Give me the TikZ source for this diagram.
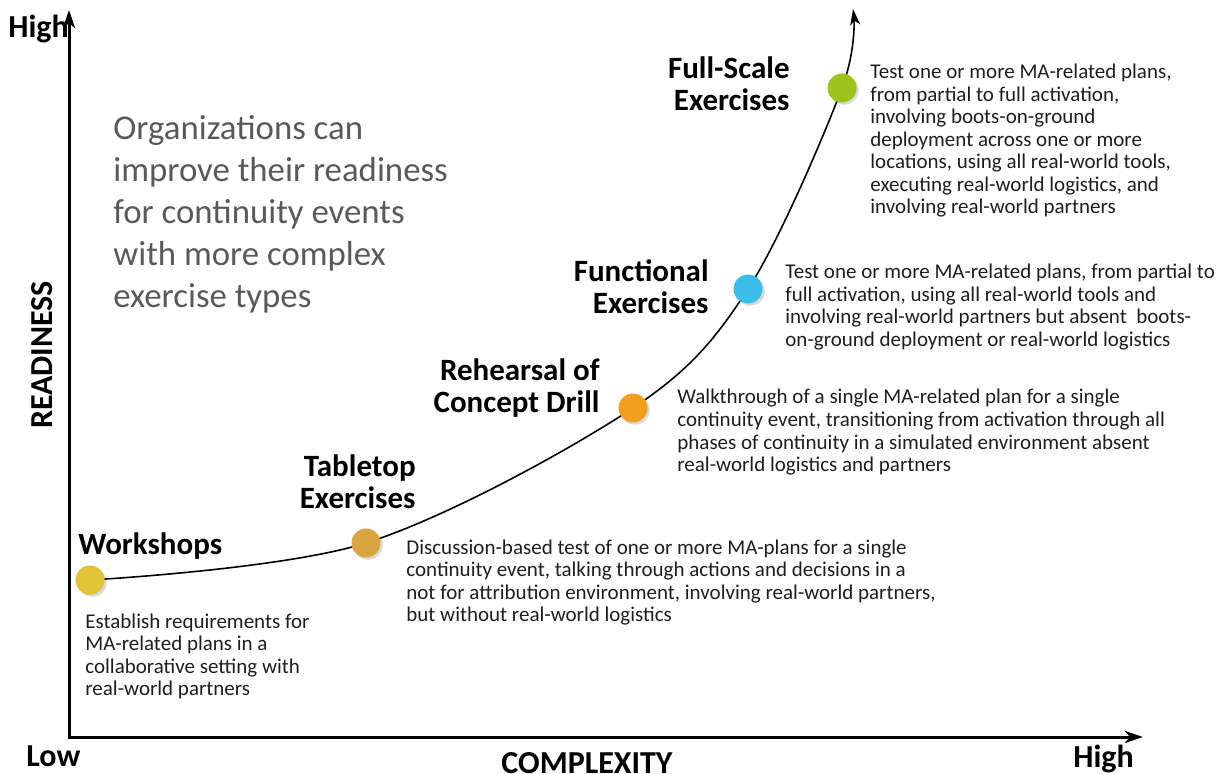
\documentclass[tikz,border=0pt]{standalone}
\usepackage{fontspec}
\setmainfont{Carlito}
\usetikzlibrary{arrows.meta,shadows}

\definecolor{bodytext}{HTML}{1E1E1E}
\definecolor{leadgray}{HTML}{595959}
\definecolor{cWork}{HTML}{E2C236}
\definecolor{cTable}{HTML}{D9A542}
\definecolor{cDrill}{HTML}{F29E1E}
\definecolor{cFunc}{HTML}{3DBEE9}
\definecolor{cFull}{HTML}{9DC41D}

% multi-line nodes are placed by the baseline of their last line
\tikzset{
  axis/.style={line width=1.5pt, -{Stealth[length=9pt,width=6pt,inset=2.5pt]}},
  curve/.style={line width=0.8pt, -{Stealth[length=8pt,width=5pt,inset=2pt]}},
  dot/.style={circle, inner sep=0pt, minimum size=14.5pt,
    drop shadow={shadow xshift=1.1pt, shadow yshift=-1.1pt, opacity=0.3}},
  heading/.style={font=\fontsize{15.5}{16}\selectfont\bfseries, align=right,
    inner sep=0pt, anchor=base east},
  axislabel/.style={font=\fontsize{16}{16}\selectfont\bfseries, inner sep=0pt},
  desc/.style={font=\fontsize{10.5}{11.25}\selectfont, text=bodytext, align=left,
    inner sep=0pt, anchor=base west},
  lead/.style={font=\fontsize{17.4}{21}\selectfont, text=leadgray, align=left,
    inner sep=0pt, anchor=base west}
}

\begin{document}
\begin{tikzpicture}[x=0.5pt, y=-0.5pt]
  \useasboundingbox (0,0) rectangle (1224,774);

  % axes
  \coordinate (origin) at (69,737);
  \coordinate (ytop) at (69,10);
  \coordinate (xend) at (1143,737);
  \draw[axis] (origin |- 0,739) -- (ytop);
  \draw[axis] (origin -| 67.5,0) -- (xend);

  \node[axislabel, anchor=base west] (yhigh) at (8,38) {High};
  \node[axislabel, anchor=base west] (xlow) at (26,766) {Low};
  \node[axislabel, anchor=base west] (xhigh) at (1073,767) {High};
  \node[axislabel, anchor=base] (xlabel) at (587,773) {COMPLEXITY};
  \node[axislabel, rotate=90, anchor=base] (ylabel) at (52,355) {READINESS};

  % points on the readiness curve
  \coordinate (pw) at (90,580);
  \coordinate (pt) at (366,543);
  \coordinate (pr) at (633,408);
  \coordinate (pf) at (748,289);
  \coordinate (ps) at (842,88);
  \coordinate (pend) at (853,9);

  \draw[curve] plot[smooth, tension=0.55] coordinates {(pw) (pt) (pr) (pf) (ps) (pend)};

  % exercise markers
  \node[dot, fill=cWork] (dw) at (pw) {};
  \node[dot, fill=cTable] (dt) at (pt) {};
  \node[dot, fill=cDrill] (dr) at (pr) {};
  \node[dot, fill=cFunc] (df) at (pf) {};
  \node[dot, fill=cFull] (ds) at (ps) {};

  % exercise names
  \node[heading, anchor=base west] (hw) at (78,554) {Workshops};
  \node[heading] (ht) at (416,508) {Tabletop\\Exercises};
  \node[heading] (hr) at (600,413) {Rehearsal of\\Concept Drill};
  \node[heading] (hf) at (709,314) {Functional\\Exercises};
  \node[heading] (hs) at (790,111) {Full-Scale\\Exercises};

  % exercise descriptions
  \node[desc] (tw) at (85,695.5) {Establish requirements for\\MA-related plans in a\\collaborative setting with\\real-world partners};
  \node[desc] (tt) at (406,621.5) {Discussion-based test of one or more MA-plans for a single\\continuity event, talking through actions and decisions in a\\not for attribution environment, involving real-world partners,\\but without real-world logistics};
  \node[desc] (tr) at (677,471.5) {Walkthrough of a single MA-related plan for a single\\continuity event, transitioning from activation through all\\phases of continuity in a simulated environment absent\\real-world logistics and partners};
  \node[desc] (tf) at (785,346.5) {Test one or more MA-related plans, from partial to\\full activation, using all real-world tools and\\involving real-world partners but absent\ \ boots-\\on-ground deployment or real-world logistics};
  \node[desc] (ts) at (870,214) {Test one or more MA-related plans,\\from partial to full activation,\\involving boots-on-ground\\deployment across one or more\\locations, using all real-world tools,\\executing real-world logistics, and\\involving real-world partners};

  % lead statement
  \node[lead] (leadtext) at (113,308) {Organizations can\\improve their readiness\\for continuity events\\with more complex\\exercise types};
\end{tikzpicture}
\end{document}
